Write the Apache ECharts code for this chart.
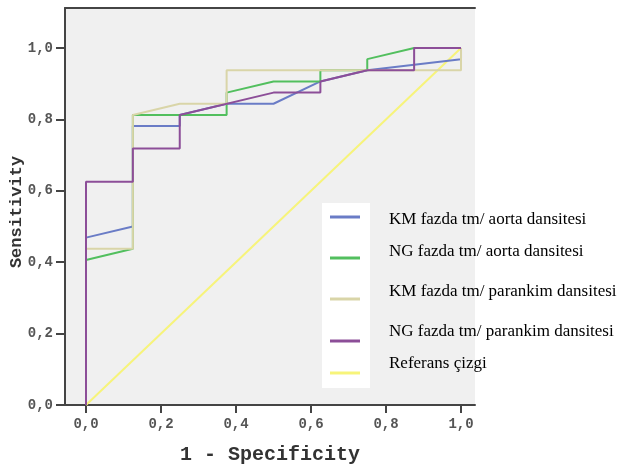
<!DOCTYPE html>
<html><head><meta charset="utf-8">
<script src="https://cdn.jsdelivr.net/npm/echarts@6/dist/echarts.min.js"></script>
<style>html,body{margin:0;padding:0;background:#fff}#c{width:626px;height:472px}</style>
</head><body><div id="c"></div>
<script>
// ROC curve points [1 - Specificity, Sensitivity]
const kmAorta = [[0,0],[0,0.46875],[0.125,0.5],[0.125,0.78125],[0.25,0.78125],[0.25,0.8125],[0.375,0.84375],[0.5,0.84375],[0.625,0.90625],[0.75,0.9375],[1,0.96875],[1,1]];
const ngAorta = [[0,0],[0,0.40625],[0.125,0.4375],[0.125,0.8125],[0.375,0.8125],[0.375,0.875],[0.5,0.90625],[0.625,0.90625],[0.625,0.9375],[0.75,0.9375],[0.75,0.96875],[0.875,1],[1,1]];
const kmParankim = [[0,0],[0,0.4375],[0.125,0.4375],[0.125,0.8125],[0.25,0.84375],[0.375,0.84375],[0.375,0.9375],[1,0.9375],[1,1]];
const ngParankim = [[0,0],[0,0.625],[0.125,0.625],[0.125,0.71875],[0.25,0.71875],[0.25,0.8125],[0.5,0.875],[0.625,0.875],[0.625,0.90625],[0.75,0.9375],[0.875,0.9375],[0.875,1],[1,1]];
const referans = [[0,0],[1,1]];
const tickValues = [0, 0.2, 0.4, 0.6, 0.8, 1.0];
const seriesNames = ['KM fazda tm/ aorta dansitesi','NG fazda tm/ aorta dansitesi','KM fazda tm/ parankim dansitesi','NG fazda tm/ parankim dansitesi','Referans çizgi'];
const seriesColors = ['#6a7cc6','#52bf5e','#d9d5a8','#8c4e98','#f7f47a'];
const seriesData = [kmAorta, ngAorta, kmParankim, ngParankim, referans];
const xTitle = '1 - Specificity';
const yTitle = 'Sensitivity';

const chart = echarts.init(document.getElementById('c'), null, {renderer:'canvas'});
const tickFont = {fontFamily:'Liberation Mono', fontWeight:'bold', fontSize:14, color:'#555'};
const fmt = v => v.toFixed(1).replace('.', ',');
const axisCol = '#444';

const legendY = [217, 258, 299, 341, 373];
const textY = [220, 252, 292, 332, 364];
const graphics = [
  {type:'rect', shape:{x:322,y:203,width:48,height:185}, style:{fill:'#fff'}, z:10},
  {type:'text', x:17, y:212, rotation:Math.PI/2, style:{text:yTitle, font:'bold 17px "Liberation Mono"', fill:'#333', align:'center', verticalAlign:'middle'}, z:10}
];
seriesNames.forEach((n,i)=>{
  graphics.push({type:'line', shape:{x1:330,y1:legendY[i],x2:360,y2:legendY[i]}, style:{stroke:seriesColors[i], lineWidth:3}, z:11});
  graphics.push({type:'text', x:389, y:textY[i], style:{text:n, font:'17px "Liberation Serif"', fill:'#000', verticalAlign:'middle'}, z:11});
});

chart.setOption({
  animation:false,
  grid:{left:65, top:8, width:410, height:397, show:true, backgroundColor:'#f0f0f0', borderWidth:0},
  xAxis:[
    {type:'value', min:-0.056, max:1.0373, position:'bottom',
      axisLine:{show:true, onZero:false, lineStyle:{color:axisCol, width:2}},
      axisTick:{show:true, length:8, customValues:tickValues, lineStyle:{color:axisCol, width:2}},
      axisLabel:{...tickFont, margin:12, customValues:tickValues, formatter:fmt}, splitLine:{show:false},
      name:xTitle, nameLocation:'middle', nameGap:40,
      nameTextStyle:{fontFamily:'Liberation Mono', fontWeight:'bold', fontSize:20, color:'#333'}},
    {type:'value', min:-0.056, max:1.0373, position:'top',
      axisLine:{show:true, onZero:false, lineStyle:{color:axisCol, width:2}}, axisTick:{show:false}, axisLabel:{show:false}, splitLine:{show:false}}
  ],
  yAxis:[
    {type:'value', min:0, max:1.112, position:'left',
      axisLine:{show:true, onZero:false, lineStyle:{color:axisCol, width:2}},
      axisTick:{show:true, length:9, customValues:tickValues, lineStyle:{color:axisCol, width:2}},
      axisLabel:{...tickFont, margin:12, customValues:tickValues, formatter:fmt}, splitLine:{show:false}}
  ],
  series: seriesData.map((d,i)=>({
    name:seriesNames[i], type:'line', xAxisIndex:0, yAxisIndex:0, data:d,
    showSymbol:false, symbol:'none', lineStyle:{color:seriesColors[i], width:2}, z:(i===4?1:2+i)
  })),
  graphic: graphics
});
</script></body></html>
